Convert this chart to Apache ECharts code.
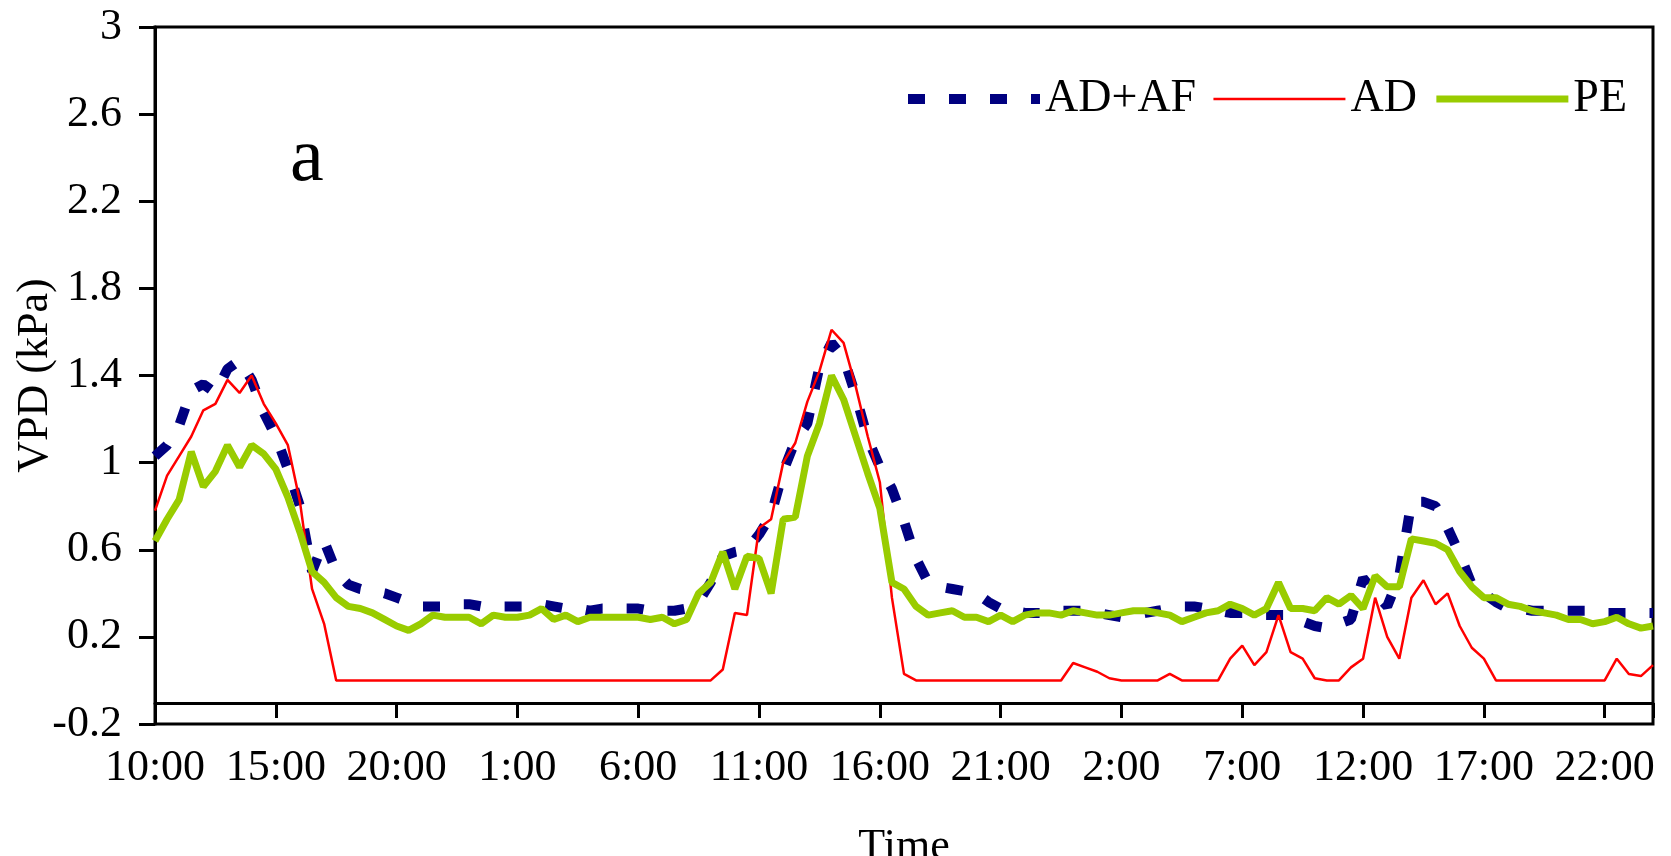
<!DOCTYPE html>
<html>
<head>
<meta charset="utf-8">
<title>VPD</title>
<script src="https://cdn.jsdelivr.net/npm/echarts@6/dist/echarts.min.js"></script>
<style>
    html, body { margin: 0; padding: 0; background: #ffffff; }
    #main { width: 1671px; height: 856px; }
</style>
</head>
<body>
<div id="main"></div>
<script>
// readings every half hour, hour 0 is 10:00 of the first day
var stepHours = 0.5;
var tickHours = 5;
var tickLabels = ['10:00', '15:00', '20:00', '1:00', '6:00', '11:00', '16:00', '21:00', '2:00', '7:00', '12:00', '17:00', '22:00'];
var seriesNames = ['AD+AF', 'AD', 'PE'];

var adafValues = [
    1.03, 1.08, 1.17, 1.33, 1.36, 1.32, 1.43, 1.47, 1.38, 1.23,
    1.12, 0.97, 0.80, 0.50, 0.64, 0.50, 0.44, 0.42, 0.41, 0.40,
    0.38, 0.36, 0.34, 0.34, 0.34, 0.35, 0.35, 0.34, 0.34, 0.34,
    0.34, 0.34, 0.35, 0.34, 0.33, 0.33, 0.32, 0.33, 0.33, 0.33,
    0.33, 0.32, 0.32, 0.32, 0.33, 0.36, 0.45, 0.57, 0.59, 0.60,
    0.67, 0.76, 0.96, 1.10, 1.18, 1.44, 1.55, 1.48, 1.31, 1.11,
    0.98, 0.88, 0.73, 0.56, 0.45, 0.43, 0.42, 0.41, 0.40, 0.36,
    0.33, 0.32, 0.31, 0.31, 0.31, 0.32, 0.32, 0.32, 0.31, 0.30,
    0.29, 0.30, 0.31, 0.32, 0.33, 0.34, 0.34, 0.33, 0.32, 0.31,
    0.31, 0.30, 0.30, 0.30, 0.30, 0.27, 0.25, 0.24, 0.26, 0.28,
    0.47, 0.40, 0.34, 0.48, 0.82, 0.82, 0.80, 0.70, 0.58, 0.44,
    0.40, 0.36, 0.33, 0.33, 0.32, 0.32, 0.32, 0.32, 0.32, 0.32,
    0.31, 0.31, 0.31, 0.31, 0.31
];

var adValues = [
    0.78, 0.94, 1.03, 1.12, 1.24, 1.27, 1.38, 1.32, 1.40, 1.27,
    1.18, 1.08, 0.82, 0.42, 0.26, 0, 0, 0, 0, 0,
    0, 0, 0, 0, 0, 0, 0, 0, 0, 0,
    0, 0, 0, 0, 0, 0, 0, 0, 0, 0,
    0, 0, 0, 0, 0, 0, 0, 0.05, 0.31, 0.30,
    0.70, 0.74, 1.00, 1.09, 1.28, 1.42, 1.61, 1.55, 1.35, 1.12,
    0.91, 0.38, 0.03, 0, 0, 0, 0, 0, 0, 0,
    0, 0, 0, 0, 0, 0, 0.08, 0.06, 0.04, 0.01,
    0, 0, 0, 0, 0.03, 0, 0, 0, 0, 0.10,
    0.16, 0.07, 0.13, 0.30, 0.13, 0.10, 0.01, 0, 0, 0.06,
    0.10, 0.38, 0.20, 0.10, 0.38, 0.46, 0.35, 0.40, 0.25, 0.15,
    0.10, 0, 0, 0, 0, 0, 0, 0, 0, 0,
    0, 0.10, 0.03, 0.02, 0.07
];

var peValues = [
    0.64, 0.74, 0.83, 1.05, 0.89, 0.96, 1.08, 0.98, 1.08, 1.04,
    0.97, 0.84, 0.68, 0.50, 0.45, 0.38, 0.34, 0.33, 0.31, 0.28,
    0.25, 0.23, 0.26, 0.30, 0.29, 0.29, 0.29, 0.26, 0.30, 0.29,
    0.29, 0.30, 0.33, 0.28, 0.30, 0.27, 0.29, 0.29, 0.29, 0.29,
    0.29, 0.28, 0.29, 0.26, 0.28, 0.40, 0.45, 0.59, 0.42, 0.57,
    0.56, 0.40, 0.74, 0.75, 1.03, 1.18, 1.40, 1.29, 1.12, 0.95,
    0.79, 0.45, 0.42, 0.34, 0.30, 0.31, 0.32, 0.29, 0.29, 0.27,
    0.30, 0.27, 0.30, 0.31, 0.31, 0.30, 0.32, 0.31, 0.30, 0.30,
    0.31, 0.32, 0.32, 0.31, 0.30, 0.27, 0.29, 0.31, 0.32, 0.35,
    0.33, 0.30, 0.33, 0.45, 0.33, 0.33, 0.32, 0.38, 0.35, 0.39,
    0.33, 0.48, 0.43, 0.43, 0.65, 0.64, 0.63, 0.60, 0.50, 0.43,
    0.38, 0.38, 0.35, 0.34, 0.32, 0.31, 0.30, 0.28, 0.28, 0.26,
    0.27, 0.29, 0.26, 0.24, 0.25
];

var serif = "'Liberation Serif', 'Times New Roman', serif";

function toPoints(values) {
    return values.map(function (v, i) {
        return [i * stepHours, v];
    });
}

var myChart = echarts.init(document.getElementById('main'), null, { renderer: 'canvas' });

myChart.setOption({
    animation: false,
    backgroundColor: '#ffffff',
    title: {
        text: 'a',
        left: 290,
        top: 122,
        padding: 0,
        textStyle: {
            fontFamily: serif,
            fontSize: 76,
            fontWeight: 'normal',
            color: '#000000'
        }
    },
    legend: {
        left: 903,
        top: 76,
        padding: 0,
        itemWidth: 132,
        itemHeight: 12,
        itemGap: 16,
        selectedMode: false,
        itemStyle: { opacity: 0 },
        textStyle: {
            fontFamily: serif,
            fontSize: 46,
            color: '#000000'
        },
        data: [
            { name: seriesNames[0], lineStyle: { width: 10, type: [17, 24], color: '#000080', cap: 'butt' } },
            { name: seriesNames[1], lineStyle: { width: 2.5, type: 'solid', color: '#ff0000' } },
            { name: seriesNames[2], lineStyle: { width: 7, type: 'solid', color: '#99cc00' } }
        ]
    },
    grid: {
        left: 155,
        right: 18,
        top: 27,
        bottom: 132,
        show: true,
        borderColor: '#000000',
        borderWidth: 3,
        containLabel: false,
        outerBoundsMode: 'none'
    },
    xAxis: {
        type: 'value',
        min: 0,
        max: 62,
        interval: tickHours,
        offset: -21,
        name: 'Time',
        nameLocation: 'middle',
        nameGap: 122,
        nameMoveOverlap: false,
        nameTextStyle: {
            fontFamily: serif,
            fontSize: 44,
            color: '#000000'
        },
        axisLine: {
            onZero: false,
            lineStyle: { color: '#000000', width: 3 }
        },
        axisTick: {
            length: 15,
            lineStyle: { color: '#000000', width: 3 }
        },
        axisLabel: {
            margin: 43,
            fontFamily: serif,
            fontSize: 44,
            color: '#000000',
            formatter: function (v) {
                var k = v / tickHours;
                return Number.isInteger(k) && tickLabels[k] ? tickLabels[k] : '';
            }
        },
        splitLine: { show: false }
    },
    yAxis: {
        type: 'value',
        min: -0.2,
        max: 3,
        interval: 0.4,
        name: 'VPD (kPa)',
        nameLocation: 'middle',
        nameGap: 98,
        nameMoveOverlap: false,
        nameTextStyle: {
            fontFamily: serif,
            fontSize: 44,
            color: '#000000'
        },
        axisLine: {
            show: true,
            lineStyle: { color: '#000000', width: 3 }
        },
        axisTick: {
            show: true,
            length: 16,
            lineStyle: { color: '#000000', width: 3 }
        },
        axisLabel: {
            margin: 33,
            fontFamily: serif,
            fontSize: 44,
            color: '#000000'
        },
        splitLine: { show: false }
    },
    series: [
        {
            name: seriesNames[0],
            type: 'line',
            symbol: 'none',
            data: toPoints(adafValues),
            lineStyle: { color: '#000080', width: 10, type: [17, 24], cap: 'butt' },
            itemStyle: { color: '#000080' }
        },
        {
            name: seriesNames[1],
            type: 'line',
            symbol: 'none',
            data: toPoints(adValues),
            lineStyle: { color: '#ff0000', width: 2.5 },
            itemStyle: { color: '#ff0000' }
        },
        {
            name: seriesNames[2],
            type: 'line',
            symbol: 'none',
            data: toPoints(peValues),
            lineStyle: { color: '#99cc00', width: 7 },
            itemStyle: { color: '#99cc00' }
        }
    ]
});
</script>
</body>
</html>
